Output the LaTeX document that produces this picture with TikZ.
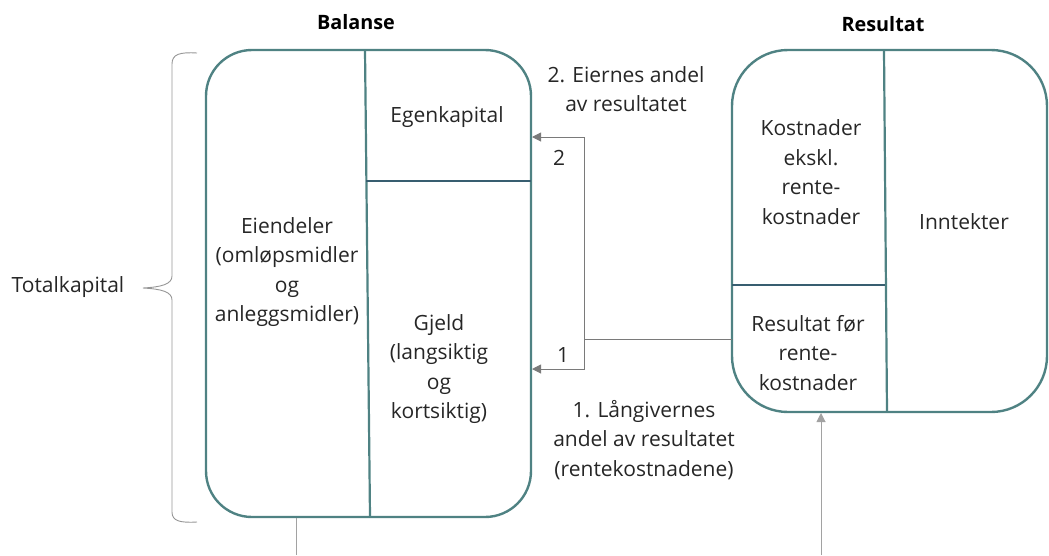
\documentclass[tikz,border=0pt]{standalone}
\usepackage{fontspec}
\setmainfont{Open Sans}
\usetikzlibrary{arrows.meta}
\definecolor{frame}{HTML}{4F8283}
\definecolor{split}{HTML}{385E70}
\definecolor{link}{HTML}{7A7A7A}
\definecolor{ink}{HTML}{262626}
\begin{document}
\begin{tikzpicture}[x=1pt,y=-1pt,
  panel/.style={draw=frame, line width=2.4pt, minimum width=#1},
  divider/.style={draw=frame, line width=2.2pt},
  hsplit/.style={draw=split, line width=2.2pt},
  txt/.style={font=\fontsize{21}{29.5}\selectfont, text=ink, align=center, inner sep=0pt},
  head/.style={font=\fontsize{19.8}{24}\selectfont\bfseries, text=black, inner sep=0pt},
  link/.style={draw=link, line width=1pt},
  arr/.style={link, -{Triangle[length=9pt,width=9pt]}}]
\useasboundingbox (0,0) rectangle (1049,555);

% two panels
\node[panel=325pt, minimum height=467pt, rounded corners=46pt] (bal) at (368.5,283.5) {};
\node[panel=315pt, minimum height=362pt, rounded corners=56pt] (res) at (889.5,231) {};

% dividers inside Balanse
\coordinate (bvt) at (365,50);
\coordinate (bvb) at (370,517);
\draw[divider] (bvt) -- (bvb);
\coordinate (bhl) at (366,181);
\coordinate (bhr) at (531,181);
\draw[hsplit] (bhl) -- (bhr);

% dividers inside Resultat
\coordinate (rvt) at (884,50);
\coordinate (rvb) at (887,412);
\draw[divider] (rvt) -- (rvb);
\coordinate (rhl) at (732,285);
\coordinate (rhr) at (885,285);
\draw[hsplit] (rhl) -- (rhr);

% headings
\node[head] (hbal) at (356,22) {Balanse};
\node[head] (hres) at (883,24) {Resultat};

% cell texts
\node[txt] (egk) at (447,117) {Egenkapital};
\node[txt] (eien) at (287,272) {Eiendeler\\(omløpsmidler\\og\\anleggsmidler)};
\node[txt] (gjeld) at (439,369) {Gjeld\\(langsiktig\\og\\kortsiktig)};
\node[txt] (kost) at (811,172) {Kostnader\\ekskl.\\rente-\\kostnader};
\node[txt] (innt) at (964,222) {Inntekter};
\node[txt] (rfr) at (808,353) {Resultat før\\rente-\\kostnader};

% distribution of the result
\coordinate (split) at (584,339);
\coordinate (srcR) at (732,339);
\coordinate (toEK) at (532,137);
\coordinate (toGJ) at (532,369);
\draw[link] (srcR) -- (split);
\draw[arr] (split) |- (toEK);
\draw[arr] (split) |- (toGJ);
\node[txt] (n2) at (559,158) {2};
\node[txt] (n1) at (563,355) {1};
\node[txt] (l2) at (626,89) {2. Eiernes andel\\av resultatet};
\node[txt] (l1) at (644,440) {1. Långivernes\\andel av resultatet\\(rentekostnadene)};

% lines at the bottom edge
\coordinate (balout) at (296,555);
\coordinate (balbot) at (296,518);
\draw[link, draw=link!70] (balbot) -- (balout);
\coordinate (resin) at (821,555);
\coordinate (resbot) at (821,413);
\draw[arr, draw=link!70] (resin) -- (resbot);

% brace for total capital
\draw[draw=link!80, line width=0.9pt]
  (197,53) .. controls (180,52) and (172,54) .. (172,64) -- (172,276)
  .. controls (172,284) and (162,287) .. (143,288)
  .. controls (162,289) and (172,292) .. (172,300) -- (172,512)
  .. controls (172,521) and (180,523) .. (197,522);
\node[txt] (tk) at (68,287) {Totalkapital};
\end{tikzpicture}
\end{document}
